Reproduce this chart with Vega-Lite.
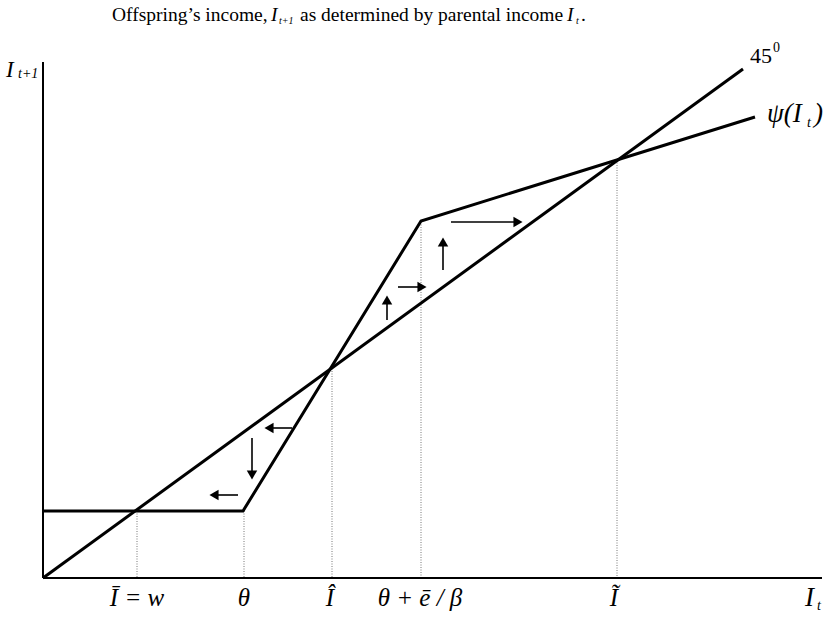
{
  "$schema": "https://vega.github.io/schema/vega-lite/v6.json",
  "width": 830,
  "height": 620,
  "autosize": "none",
  "padding": 0,
  "background": "white",
  "config": {"view": {"stroke": null}, "text": {"font": "Liberation Serif, Times New Roman, DejaVu Serif, serif", "color": "black"}},
  "datasets": {
    "curves": [
      {"series": "45", "ord": 0, "x": 0, "y": 0},
      {"series": "45", "ord": 1, "x": 700, "y": 509},
      {"series": "psi", "ord": 0, "x": 0, "y": 67},
      {"series": "psi", "ord": 1, "x": 200, "y": 67},
      {"series": "psi", "ord": 2, "x": 378, "y": 357},
      {"series": "psi", "ord": 3, "x": 712, "y": 461}
    ],
    "axes": [
      {"x": 0, "y": 0, "x2": 779, "y2": 0},
      {"x": 0, "y": 0, "x2": 0, "y2": 516}
    ],
    "guides": [
      {"x": 94, "y": 67, "y2": 0},
      {"x": 201, "y": 67, "y2": 0},
      {"x": 289, "y": 212, "y2": 0},
      {"x": 378, "y": 356, "y2": 0},
      {"x": 574, "y": 418, "y2": 0}
    ],
    "shafts": [
      {"x": 249, "y": 150, "x2": 226, "y2": 150},
      {"x": 209, "y": 140, "x2": 209, "y2": 103},
      {"x": 195, "y": 83, "x2": 171, "y2": 83},
      {"x": 344, "y": 258, "x2": 344, "y2": 278},
      {"x": 355, "y": 291, "x2": 379, "y2": 291},
      {"x": 400, "y": 308, "x2": 400, "y2": 336},
      {"x": 408, "y": 356, "x2": 475, "y2": 356}
    ],
    "heads": [
      {"x": 226, "y": 150, "shape": "triangle-left"},
      {"x": 209, "y": 103, "shape": "triangle-down"},
      {"x": 171, "y": 83, "shape": "triangle-left"},
      {"x": 344, "y": 278, "shape": "triangle-up"},
      {"x": 379, "y": 291, "shape": "triangle-right"},
      {"x": 400, "y": 336, "shape": "triangle-up"},
      {"x": 475, "y": 356, "shape": "triangle-right"}
    ],
    "titleRoman": [
      {"x": 69, "y": 557, "t": "Offspring’s income,"},
      {"x": 257, "y": 557, "t": "as determined by parental income"},
      {"x": 538, "y": 557, "t": "."}
    ],
    "titleItalic": [
      {"x": 228, "y": 557, "t": "I"},
      {"x": 524, "y": 557, "t": "I"}
    ],
    "titleSub": [
      {"x": 236, "y": 554, "t": "t+1"},
      {"x": 533, "y": 554, "t": "t"}
    ],
    "bottomLabels": [
      {"x": 94, "y": -28, "t": "Ī = w"},
      {"x": 201, "y": -28, "t": "θ"},
      {"x": 287, "y": -28, "t": "Î"},
      {"x": 377, "y": -28, "t": "θ + ē / β"},
      {"x": 571, "y": -28, "t": "Ĩ"}
    ],
    "mathBig": [
      {"x": 762, "y": -28, "t": "I"},
      {"x": 724, "y": 456, "t": "ψ(I"},
      {"x": 771, "y": 456, "t": ")"}
    ],
    "mathSub": [
      {"x": 774, "y": -32, "t": "t"},
      {"x": 764, "y": 451, "t": "t"},
      {"x": -25, "y": 500, "t": "t+1"}
    ],
    "yLabel": [
      {"x": -37, "y": 501, "t": "I"}
    ],
    "deg": [
      {"x": 707, "y": 515, "t": "45"}
    ],
    "degSup": [
      {"x": 730, "y": 526, "t": "0"}
    ]
  },
  "encoding": {
    "x": {"field": "x", "type": "quantitative", "scale": {"domain": [-43, 787], "nice": false, "zero": false}, "axis": null},
    "y": {"field": "y", "type": "quantitative", "scale": {"domain": [-42, 578], "nice": false, "zero": false}, "axis": null}
  },
  "layer": [
    {
      "data": {"name": "guides"},
      "mark": {"type": "rule", "color": "#777777", "strokeWidth": 1, "strokeDash": [1, 1.5]},
      "encoding": {"y2": {"field": "y2"}}
    },
    {
      "data": {"name": "axes"},
      "mark": {"type": "rule", "color": "black", "strokeWidth": 2},
      "encoding": {"x2": {"field": "x2"}, "y2": {"field": "y2"}}
    },
    {
      "data": {"name": "curves"},
      "mark": {"type": "line", "color": "black", "strokeWidth": 3, "strokeJoin": "miter", "strokeCap": "butt"},
      "encoding": {"detail": {"field": "series"}, "order": {"field": "ord", "type": "quantitative"}}
    },
    {
      "data": {"name": "shafts"},
      "mark": {"type": "rule", "color": "black", "strokeWidth": 1.6},
      "encoding": {"x2": {"field": "x2"}, "y2": {"field": "y2"}}
    },
    {
      "data": {"name": "heads"},
      "mark": {"type": "point", "filled": true, "color": "black", "size": 110, "opacity": 1},
      "encoding": {"shape": {"field": "shape", "type": "nominal", "scale": null}}
    },
    {
      "data": {"name": "titleRoman"},
      "mark": {"type": "text", "fontSize": 19.5, "align": "left", "baseline": "alphabetic"},
      "encoding": {"text": {"field": "t"}}
    },
    {
      "data": {"name": "titleItalic"},
      "mark": {"type": "text", "fontSize": 19.5, "fontStyle": "italic", "align": "left", "baseline": "alphabetic"},
      "encoding": {"text": {"field": "t"}}
    },
    {
      "data": {"name": "titleSub"},
      "mark": {"type": "text", "fontSize": 10, "fontStyle": "italic", "align": "left", "baseline": "alphabetic"},
      "encoding": {"text": {"field": "t"}}
    },
    {
      "data": {"name": "bottomLabels"},
      "mark": {"type": "text", "fontSize": 25, "fontStyle": "italic", "align": "center", "baseline": "alphabetic"},
      "encoding": {"text": {"field": "t"}}
    },
    {
      "data": {"name": "mathBig"},
      "mark": {"type": "text", "fontSize": 27, "fontStyle": "italic", "align": "left", "baseline": "alphabetic"},
      "encoding": {"text": {"field": "t"}}
    },
    {
      "data": {"name": "mathSub"},
      "mark": {"type": "text", "fontSize": 14, "fontStyle": "italic", "align": "left", "baseline": "alphabetic"},
      "encoding": {"text": {"field": "t"}}
    },
    {
      "data": {"name": "yLabel"},
      "mark": {"type": "text", "fontSize": 23, "fontStyle": "italic", "align": "left", "baseline": "alphabetic"},
      "encoding": {"text": {"field": "t"}}
    },
    {
      "data": {"name": "deg"},
      "mark": {"type": "text", "fontSize": 22, "align": "left", "baseline": "alphabetic"},
      "encoding": {"text": {"field": "t"}}
    },
    {
      "data": {"name": "degSup"},
      "mark": {"type": "text", "fontSize": 14, "align": "left", "baseline": "alphabetic"},
      "encoding": {"text": {"field": "t"}}
    }
  ]
}
